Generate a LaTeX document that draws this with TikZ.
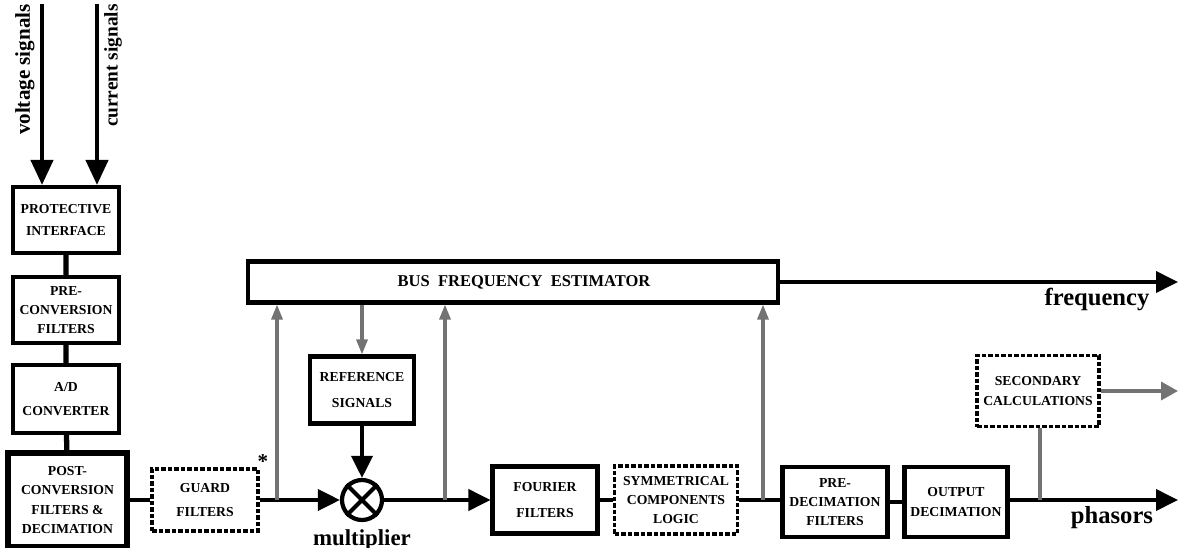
\documentclass[tikz,border=0pt]{standalone}
\usepackage{fontspec}
\setmainfont{Liberation Serif}
\usetikzlibrary{arrows.meta,calc}
\newdimen\px \px=0.02cm
\begin{document}
\begin{tikzpicture}[x=0.02cm,y=-0.02cm,
 blk/.style={draw, line width=2.3pt, fill=white, inner sep=0pt, align=center, font=\bfseries\fontsize{7.8}{11}\selectfont},
 dsh/.style={blk, line width=1.9pt, dash pattern=on 2.6pt off 1.1pt},
 conn/.style={line width=2.2pt},
 arr/.style={conn, -{Triangle[length=0.44cm,width=0.42cm]}},
 bigarr/.style={line width=2.4pt, -{Triangle[length=0.5cm,width=0.44cm]}},
 garr/.style={line width=1.8pt, draw=black!55, -{Triangle[length=0.3cm,width=0.22cm,fill=black!55]}},
 gline/.style={line width=1.8pt, draw=black!55},
 lab/.style={font=\bfseries\fontsize{14}{16}\selectfont, inner sep=0pt},
 vlab/.style={inner sep=0pt, rotate=90, anchor=east}]
\useasboundingbox (0,0) rectangle (1178,548);
% left column
\node[blk, minimum width=106\px, minimum height=66\px] (prot) at (66,220) {PROTECTIVE\\[1.5pt]INTERFACE};
\node[blk, minimum width=106\px, minimum height=66\px] (pre) at (66,310) {PRE-\\CONVERSION\\FILTERS};
\node[blk, minimum width=106\px, minimum height=68\px] (ad) at (66,399) {A/D\\[3pt]CONVERTER};
\node[blk, line width=3pt, minimum width=119\px, minimum height=94\px] (post) at (67.5,500) {POST-\\CONVERSION\\FILTERS \&\\DECIMATION};
% inputs
\coordinate (vtop) at (42,4);
\coordinate (ctop) at (97,4);
\draw[bigarr] (vtop) -- (vtop |- prot.north);
\draw[bigarr] (ctop) -- (ctop |- prot.north);
\node[vlab, font=\bfseries\fontsize{12}{13}\selectfont] (vs) at (25,4) {voltage signals};
\node[vlab, font=\bfseries\fontsize{11}{13}\selectfont] (cs) at (113,4) {current signals};
\draw[line width=3pt] (prot) -- (pre) (pre) -- (ad) (ad) -- (post);
% main chain
\node[dsh, minimum width=106\px, minimum height=62\px] (guard) at (205,500) {GUARD\\[3pt]FILTERS};
\node[font=\bfseries\fontsize{12}{12}\selectfont, inner sep=0pt] (ast) at (263,462) {*};
\node[circle, draw, line width=2.4pt, minimum size=40\px, inner sep=0pt] (mul) at (362,500) {};
\draw[line width=2.4pt] (mul.north west) -- (mul.south east) (mul.north east) -- (mul.south west);
\node[font=\bfseries\fontsize{13}{13}\selectfont, inner sep=0pt] (mlab) at (362,540) {multiplier};
\node[blk, minimum width=104\px, minimum height=67\px] (ref) at (362,390) {REFERENCE\\[4pt]SIGNALS};
\node[blk, minimum width=530\px, minimum height=41\px] (bus) at (513,282) {};
\node[font=\bfseries\fontsize{9.4}{9.4}\selectfont, inner sep=0pt] (buslab) at (524,282) {BUS\ \ FREQUENCY\ \ ESTIMATOR};
\node[blk, minimum width=105\px, minimum height=67\px] (four) at (545,500) {FOURIER\\[4pt]FILTERS};
\node[dsh, minimum width=123\px, minimum height=68\px] (sym) at (676,500) {SYMMETRICAL\\COMPONENTS\\LOGIC};
\node[blk, minimum width=105\px, minimum height=70\px] (pdec) at (835,502) {PRE-\\DECIMATION\\FILTERS};
\node[blk, minimum width=103\px, minimum height=70\px] (out) at (956,502) {OUTPUT\\DECIMATION};
\node[dsh, minimum width=122\px, minimum height=71\px] (sec) at (1038,391) {SECONDARY\\CALCULATIONS};
% connectors
\draw[conn] (post.east |- guard.west) -- (guard.west);
\draw[arr] (guard.east) -- (mul.west);
\draw[arr] (ref.south) -- (mul.north);
\draw[arr] (mul.east) -- (four.west);
\draw[conn] (four.east) -- (sym.west);
\draw[conn] (sym.east) -- (pdec.west |- sym.east);
\draw[conn] (pdec.east) -- (out.west);
\coordinate (pend) at (1178,500);
\draw[arr] (out.east |- pend) -- (pend);
\coordinate (fend) at (1178,282);
\draw[arr] (bus.east) -- (fend);
\node[lab] (flab) at (1097,299) {frequency};
\node[lab] (plab) at (1112,518) {phasors};
% gray feedback
\coordinate (b1) at (277,500);
\coordinate (b2) at (445,500);
\coordinate (b3) at (763,500);
\coordinate (b4) at (1040,500);
\draw[garr] (b1) -- (b1 |- bus.south);
\draw[garr] (b2) -- (b2 |- bus.south);
\draw[garr] (b3) -- (b3 |- bus.south);
\draw[garr] (bus.south -| ref.north) -- (ref.north);
\draw[gline] (b4) -- (b4 |- sec.south);
\coordinate (send) at (1178,391);
\draw[line width=2pt, draw=black!55, -{Triangle[length=0.34cm,width=0.36cm,fill=black!55]}] (sec.east) -- (send);
\end{tikzpicture}
\end{document}
